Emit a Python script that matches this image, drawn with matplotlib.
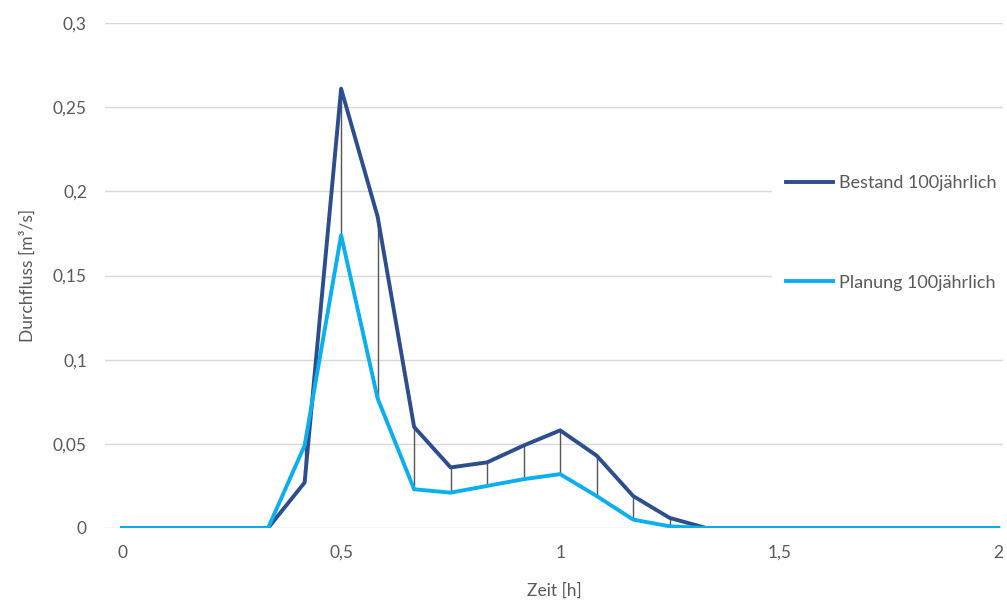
import numpy as np
import matplotlib.pyplot as plt

plt.rcParams['font.family'] = ['Lato', 'DejaVu Sans']

# time steps of 5 minutes, 0 .. 2 h
zeit = np.arange(25) / 12
bestand = [0, 0, 0, 0, 0, 0.027, 0.261, 0.185, 0.060, 0.036, 0.039, 0.049, 0.058,
           0.043, 0.019, 0.006, 0, 0, 0, 0, 0, 0, 0, 0, 0]
planung = [0, 0, 0, 0, 0, 0.049, 0.174, 0.077, 0.023, 0.021, 0.025, 0.029, 0.032,
           0.019, 0.005, 0.001, 0, 0, 0, 0, 0, 0, 0, 0, 0]
labels = ['Bestand 100jährlich', 'Planung 100jährlich']
yticks = [0, 0.05, 0.1, 0.15, 0.2, 0.25, 0.3]
xticks = [0, 0.5, 1, 1.5, 2]

grey = '#595959'
fs = 12.5

fig = plt.figure(figsize=(10.07, 6.01), dpi=100)
ax = fig.add_axes([105 / 1007, 1 - 528 / 601, 898 / 1007, 505 / 601])

lo = np.minimum(bestand, planung)
hi = np.maximum(bestand, planung)
ax.vlines(zeit, lo, hi, color='#555555', linewidth=1, zorder=2)
ax.plot(zeit, bestand, color='#2C4D8E', linewidth=2.8, label=labels[0], zorder=3)
ax.plot(zeit, planung, color='#0AB0EE', linewidth=2.8, label=labels[1], zorder=3)

ax.set_xlim(-0.039, 2.011)
ax.set_ylim(0, 0.3)
ax.set_yticks(yticks)
ax.set_yticklabels([('%g' % v).replace('.', ',') for v in yticks])
ax.set_xticks(xticks)
ax.set_xticklabels([('%g' % v).replace('.', ',') for v in xticks])
ax.tick_params(length=0, labelsize=fs, colors=grey)
ax.tick_params(axis='y', pad=13)
ax.tick_params(axis='x', pad=12)
ax.grid(axis='y', color='#D9D9D9', linewidth=1)
ax.set_axisbelow(True)
for s in ax.spines.values():
    s.set_visible(False)

ax.set_xlabel('Zeit [h]', fontsize=fs, color=grey, labelpad=16)
ax.set_ylabel('Durchfluss [m³/s]', fontsize=fs, color=grey, labelpad=12)

leg = ax.legend(loc='center left', bbox_to_anchor=(772 / 1007, 1 - 233 / 601),
                bbox_transform=fig.transFigure, frameon=True, fontsize=13,
                labelspacing=4.6, handlelength=2.6, handletextpad=0.3,
                borderaxespad=0, borderpad=0.8, fancybox=False)
leg.get_frame().set_facecolor('white')
leg.get_frame().set_edgecolor('white')
leg.get_frame().set_alpha(1)
for t in leg.get_texts():
    t.set_color(grey)

fig.savefig('out.png', dpi=100)
